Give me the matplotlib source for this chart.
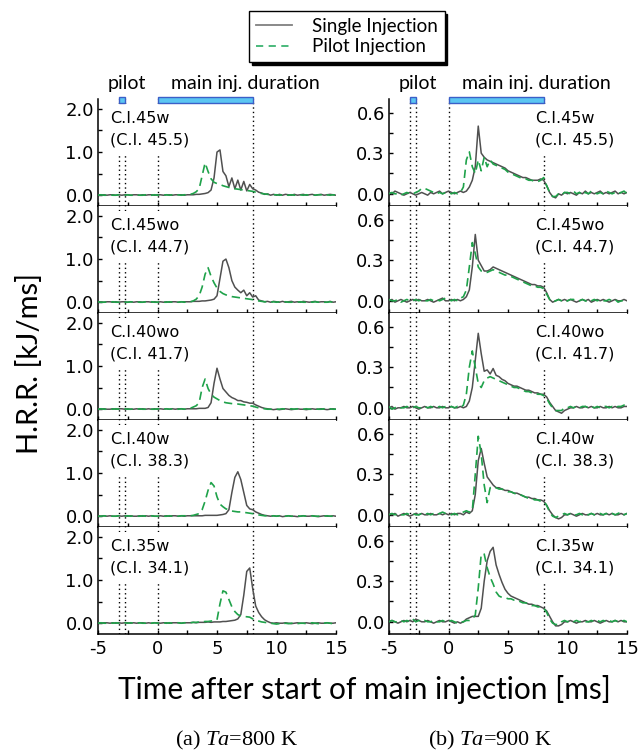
import numpy as np
import matplotlib
matplotlib.use('Agg')
import matplotlib.pyplot as plt
import matplotlib.transforms as mtransforms
from matplotlib.patches import Rectangle
from matplotlib.lines import Line2D
from matplotlib.ticker import MultipleLocator, FixedLocator

plt.rcParams['mathtext.fontset'] = 'custom'
plt.rcParams['mathtext.rm'] = 'Liberation Serif'
plt.rcParams['mathtext.it'] = 'Liberation Serif:italic'
plt.rcParams['axes.unicode_minus'] = False

# time axis, 0.25 ms steps
time = np.arange(-5, 15.01, 0.25)

cases = ['C.I.45w', 'C.I.45wo', 'C.I.40wo', 'C.I.40w', 'C.I.35w']
ci_vals = ['(C.I. 45.5)', '(C.I. 44.7)', '(C.I. 41.7)', '(C.I. 38.3)', '(C.I. 34.1)']

pilot_start, pilot_end = -3.2, -2.7
main_start, main_end = 0.0, 8.0

# ---- Ta = 800 K, H.R.R. [kJ/ms]
s800_45w = [0.01,0.00,0.01,0.00,0.01,0.01,0.00,0.01,0.00,0.01,0.01,0.00,0.01,0.01,0.00,0.01,0.00,0.01,0.01,0.00,
            0.01,0.01,0.00,0.01,0.01,0.00,0.01,0.01,0.01,0.00,0.01,0.01,0.01,0.02,0.02,0.03,0.04,0.06,0.12,0.40,
            1.00,1.05,0.55,0.45,0.20,0.40,0.15,0.35,0.12,0.32,0.10,0.25,0.15,0.12,0.07,0.05,0.02,0.03,0.00,0.02,
            0.00,0.02,0.00,0.02,0.01,0.00,0.02,0.00,0.01,0.02,0.00,0.01,0.02,0.00,0.01,0.02,0.00,0.01,0.02,0.01,0.00]
p800_45w = [0.00,0.01,0.00,0.00,0.01,0.00,0.00,0.01,0.00,0.00,0.01,0.00,0.00,0.01,0.00,0.00,0.01,0.00,0.00,0.01,
            0.00,0.01,0.00,0.01,0.00,0.01,0.00,0.01,0.00,0.01,0.01,0.02,0.04,0.08,0.15,0.45,0.75,0.55,0.38,0.30,
            0.27,0.25,0.22,0.20,0.18,0.17,0.15,0.14,0.13,0.12,0.11,0.10,0.09,0.07,0.05,0.04,0.03,0.02,0.01,0.01,
            0.01,0.00,0.01,0.01,0.00,0.01,0.00,0.01,0.01,0.00,0.01,0.00,0.01,0.00,0.01,0.01,0.00,0.01,0.00,0.01,0.00]
s800_45wo = [0.00,0.01,0.00,0.01,0.01,0.00,0.01,0.00,0.01,0.01,0.00,0.01,0.00,0.01,0.01,0.00,0.01,0.01,0.00,0.01,
             0.00,0.01,0.00,0.01,0.00,0.01,0.01,0.00,0.01,0.01,0.01,0.01,0.02,0.02,0.02,0.03,0.03,0.04,0.05,0.07,
             0.15,0.55,0.95,1.00,0.80,0.50,0.35,0.28,0.22,0.28,0.15,0.22,0.12,0.15,0.05,0.03,0.01,0.02,0.00,0.02,
             0.01,0.00,0.02,0.00,0.01,0.02,0.00,0.01,0.00,0.02,0.01,0.00,0.01,0.02,0.00,0.01,0.01,0.00,0.02,0.00,0.01]
p800_45wo = [0.01,0.00,0.00,0.01,0.00,0.01,0.00,0.00,0.01,0.00,0.00,0.01,0.00,0.01,0.00,0.00,0.01,0.00,0.01,0.00,
             0.00,0.01,0.00,0.00,0.01,0.00,0.01,0.00,0.01,0.00,0.01,0.01,0.03,0.07,0.15,0.35,0.65,0.80,0.60,0.45,
             0.33,0.25,0.20,0.17,0.15,0.13,0.12,0.11,0.10,0.09,0.08,0.07,0.06,0.04,0.03,0.02,0.01,0.01,0.00,0.01,
             0.00,0.01,0.00,0.01,0.00,0.00,0.01,0.00,0.01,0.00,0.00,0.01,0.00,0.01,0.00,0.01,0.00,0.00,0.01,0.00,0.01]
s800_40wo = [0.01,0.00,0.01,0.00,0.00,0.01,0.00,0.01,0.01,0.00,0.01,0.00,0.00,0.01,0.00,0.01,0.00,0.01,0.00,0.01,
             0.00,0.01,0.00,0.01,0.00,0.01,0.00,0.01,0.01,0.00,0.01,0.01,0.01,0.01,0.02,0.02,0.02,0.04,0.15,0.60,
             0.95,0.70,0.48,0.40,0.32,0.27,0.24,0.20,0.20,0.17,0.16,0.14,0.14,0.10,0.07,0.04,0.02,0.01,0.00,-0.01,
             0.00,-0.01,0.00,0.01,0.00,-0.01,0.00,0.01,0.00,0.00,-0.01,0.00,0.01,0.00,0.00,0.01,0.00,-0.01,0.00,0.01,0.00]
p800_40wo = [0.00,0.01,0.00,0.00,0.01,0.00,0.01,0.00,0.00,0.01,0.00,0.00,0.01,0.00,0.01,0.00,0.00,0.01,0.00,0.00,
             0.01,0.00,0.00,0.01,0.00,0.01,0.00,0.00,0.01,0.00,0.01,0.02,0.05,0.08,0.15,0.50,0.70,0.48,0.35,0.28,
             0.24,0.20,0.17,0.15,0.14,0.13,0.12,0.12,0.11,0.10,0.09,0.08,0.07,0.05,0.03,0.02,0.01,0.00,0.00,0.01,
             0.00,0.00,0.01,0.00,0.00,0.01,0.00,0.01,0.00,0.00,0.01,0.00,0.00,0.01,0.00,0.00,0.01,0.00,0.01,0.00,0.00]
s800_40w = [0.01,0.00,0.01,0.00,0.01,0.00,0.00,0.01,0.00,0.01,0.00,0.01,0.00,0.00,0.01,0.00,0.01,0.00,0.01,0.00,
            0.00,0.01,0.00,0.01,0.00,0.01,0.01,0.00,0.01,0.00,0.01,0.01,0.01,0.01,0.01,0.01,0.02,0.02,0.02,0.02,
            0.02,0.03,0.04,0.06,0.15,0.55,0.90,1.03,0.85,0.55,0.25,0.17,0.15,0.10,0.07,0.04,0.02,0.01,0.00,0.01,
            0.00,0.01,-0.01,0.00,0.01,0.00,0.00,-0.01,0.00,0.01,0.00,0.00,0.01,0.00,-0.01,0.00,0.01,0.00,0.00,0.01,0.00]
p800_40w = [0.00,0.00,0.01,0.00,0.01,0.00,0.00,0.01,0.00,0.00,0.01,0.00,0.01,0.00,0.00,0.01,0.00,0.00,0.01,0.00,
            0.00,0.01,0.00,0.00,0.01,0.00,0.01,0.00,0.01,0.01,0.01,0.01,0.02,0.04,0.06,0.15,0.35,0.60,0.78,0.70,
            0.45,0.28,0.22,0.17,0.15,0.12,0.11,0.10,0.10,0.09,0.08,0.07,0.06,0.04,0.03,0.02,0.01,0.01,0.00,0.01,
            0.00,0.01,0.00,0.00,0.01,0.00,0.00,0.01,0.00,0.01,0.00,0.00,0.01,0.00,0.00,0.01,0.00,0.01,0.00,0.00,0.01]
s800_35w = [0.01,0.00,0.01,0.01,0.00,0.01,0.00,0.01,0.00,0.01,0.01,0.00,0.01,0.00,0.01,0.01,0.00,0.01,0.00,0.01,
            0.01,0.00,0.01,0.01,0.00,0.01,0.01,0.01,0.00,0.01,0.01,0.01,0.02,0.01,0.02,0.02,0.02,0.03,0.02,0.03,
            0.03,0.03,0.04,0.04,0.05,0.06,0.07,0.10,0.20,0.65,1.20,1.28,0.80,0.40,0.25,0.15,0.08,0.04,0.01,0.00,
            0.01,0.00,0.00,0.01,0.00,-0.01,0.00,0.01,0.00,0.00,0.01,0.00,-0.01,0.00,0.01,0.00,0.00,0.01,0.00,0.00,0.01]
p800_35w = [0.00,0.01,0.00,0.00,0.01,0.00,0.01,0.00,0.00,0.01,0.00,0.01,0.00,0.00,0.01,0.00,0.00,0.01,0.00,0.01,
            0.00,0.00,0.01,0.00,0.01,0.00,0.01,0.01,0.00,0.01,0.01,0.01,0.02,0.02,0.03,0.03,0.04,0.04,0.05,0.06,
            0.08,0.45,0.75,0.72,0.55,0.38,0.27,0.20,0.17,0.15,0.15,0.14,0.10,0.07,0.05,0.03,0.02,0.01,0.00,-0.01,
            -0.02,-0.01,-0.02,0.00,-0.01,0.00,0.01,-0.01,0.00,0.00,-0.01,0.00,0.01,0.00,-0.01,0.00,0.00,0.01,0.00,-0.01,0.00]

# ---- Ta = 900 K
s900_45w = [0.01,0.00,0.02,0.01,0.00,-0.01,0.00,0.01,0.00,-0.01,0.00,0.01,0.00,-0.01,0.01,0.00,0.01,0.02,0.00,0.01,
            0.02,0.01,0.00,0.01,0.02,0.01,0.02,0.05,0.10,0.20,0.50,0.30,0.27,0.25,0.24,0.23,0.22,0.21,0.20,0.19,
            0.17,0.16,0.15,0.14,0.13,0.12,0.12,0.11,0.10,0.10,0.10,0.11,0.10,0.06,0.01,-0.02,-0.03,0.00,-0.01,0.01,
            0.00,0.01,0.00,-0.01,0.01,0.00,0.02,0.00,0.01,0.00,0.01,0.02,0.00,0.01,0.00,0.01,0.02,0.00,0.01,0.00,0.01]
p900_45w = [0.00,0.01,0.00,0.00,-0.01,0.00,0.01,0.00,0.00,0.01,0.02,0.04,0.04,0.03,0.02,0.01,0.00,0.01,0.00,0.01,
            0.01,0.00,0.01,0.00,0.01,0.05,0.25,0.31,0.20,0.15,0.25,0.17,0.27,0.20,0.25,0.22,0.21,0.20,0.19,0.18,
            0.16,0.15,0.14,0.13,0.12,0.11,0.11,0.10,0.10,0.09,0.09,0.10,0.12,0.06,0.01,-0.02,-0.02,0.00,-0.01,0.01,
            0.01,0.00,0.02,0.00,0.01,-0.01,0.01,0.00,0.02,0.01,0.00,0.01,0.00,0.02,0.01,0.00,0.01,0.00,0.01,0.02,0.00]
s900_45wo = [0.00,0.01,-0.01,0.00,0.01,0.00,-0.01,0.00,0.01,0.00,0.01,0.00,0.00,0.01,0.00,-0.01,0.00,0.01,0.02,0.00,
             0.00,0.01,0.00,0.01,0.00,0.01,0.03,0.08,0.25,0.49,0.30,0.26,0.22,0.22,0.23,0.25,0.24,0.23,0.22,0.21,
             0.20,0.19,0.18,0.17,0.16,0.15,0.14,0.13,0.12,0.12,0.11,0.11,0.10,0.06,0.01,-0.01,0.00,0.01,0.00,0.01,
             0.00,0.01,0.00,-0.01,0.00,0.01,0.00,0.01,-0.01,0.00,0.01,0.00,0.01,0.00,-0.01,0.00,0.01,0.00,0.00,0.01,0.00]
p900_45wo = [0.01,0.00,0.00,0.01,-0.01,0.00,0.01,0.00,0.00,0.01,0.00,0.01,0.00,0.00,0.01,0.00,0.01,0.00,0.01,0.02,
             0.01,0.00,0.01,0.00,0.02,0.03,0.08,0.25,0.43,0.35,0.25,0.22,0.21,0.21,0.22,0.23,0.22,0.21,0.20,0.19,
             0.19,0.18,0.17,0.16,0.15,0.14,0.13,0.12,0.11,0.11,0.10,0.10,0.09,0.05,0.01,-0.01,0.00,0.01,0.00,-0.01,
             0.00,0.01,0.01,0.00,0.00,0.01,0.00,-0.01,0.00,0.01,0.00,0.01,0.00,0.00,0.01,0.00,0.01,-0.01,0.00,0.00,0.01]
s900_40wo = [0.00,0.01,-0.01,0.00,0.00,0.01,0.00,0.00,0.01,0.00,-0.01,0.00,0.01,0.00,0.00,0.01,0.00,0.00,0.01,0.00,
             0.00,0.01,0.00,0.00,0.01,0.00,0.01,0.05,0.15,0.35,0.55,0.40,0.27,0.28,0.25,0.29,0.24,0.23,0.21,0.20,
             0.18,0.17,0.16,0.16,0.15,0.14,0.13,0.13,0.12,0.11,0.11,0.10,0.10,0.08,0.04,0.01,-0.02,-0.03,-0.04,-0.02,
             -0.01,0.00,0.00,0.01,0.00,0.00,0.01,0.00,0.01,0.00,0.00,0.01,0.00,0.00,0.01,0.00,0.01,0.00,0.00,0.01,0.01]
p900_40wo = [0.01,-0.01,0.00,0.01,0.00,0.00,0.01,0.00,0.00,0.01,0.00,0.00,0.01,0.00,0.01,0.00,0.00,0.01,0.00,0.01,
             0.00,0.01,0.00,0.01,0.00,0.02,0.10,0.30,0.42,0.30,0.18,0.15,0.20,0.22,0.23,0.22,0.21,0.20,0.19,0.18,
             0.17,0.16,0.15,0.15,0.14,0.13,0.12,0.12,0.11,0.11,0.10,0.10,0.09,0.07,0.03,0.00,-0.02,-0.02,-0.02,0.00,
             0.00,0.01,0.00,0.01,0.00,0.01,0.01,0.00,0.01,0.00,0.01,0.00,0.01,0.01,0.00,0.01,0.00,0.01,0.01,0.02,0.01]
s900_40w = [0.01,0.00,0.01,-0.01,0.00,0.01,0.00,-0.01,0.00,0.01,0.00,0.01,0.00,0.00,0.01,0.00,0.00,0.01,0.00,0.01,
            0.00,0.01,0.00,0.01,0.01,0.00,0.02,0.01,0.03,0.15,0.40,0.49,0.38,0.28,0.25,0.22,0.20,0.20,0.19,0.18,
            0.18,0.17,0.16,0.16,0.15,0.14,0.13,0.13,0.12,0.12,0.11,0.11,0.10,0.07,0.03,0.00,-0.02,-0.03,-0.02,0.00,
            0.00,0.01,0.00,-0.01,0.00,0.01,0.00,0.00,0.01,0.00,0.01,0.00,0.00,0.01,0.00,0.01,0.00,0.00,0.01,0.00,0.01]
p900_40w = [0.00,0.01,0.00,0.01,0.00,0.00,0.01,0.00,0.01,0.00,0.00,0.01,0.00,0.01,0.00,0.01,0.00,0.01,0.02,0.01,
            0.01,0.00,0.01,0.00,0.01,0.02,0.03,0.02,0.03,0.30,0.58,0.45,0.22,0.09,0.20,0.21,0.20,0.19,0.19,0.18,
            0.17,0.17,0.16,0.15,0.15,0.14,0.13,0.12,0.12,0.11,0.11,0.10,0.10,0.07,0.02,-0.01,-0.02,-0.01,0.00,0.01,
            0.00,0.01,0.00,0.00,0.01,0.00,0.01,0.00,0.01,0.00,0.00,0.01,0.00,0.01,0.00,0.01,0.00,0.01,0.02,0.00,0.01]
s900_35w = [0.00,0.01,0.00,-0.01,0.00,0.01,0.00,0.01,0.00,0.02,0.01,0.00,0.00,0.01,0.00,-0.01,0.00,0.01,0.00,0.00,
            0.01,0.00,-0.01,0.00,-0.01,0.00,0.02,0.03,0.04,0.04,0.04,0.10,0.30,0.45,0.52,0.55,0.42,0.35,0.29,0.24,
            0.21,0.19,0.18,0.17,0.16,0.15,0.14,0.13,0.13,0.12,0.12,0.11,0.10,0.08,0.04,0.00,-0.03,-0.03,-0.02,0.00,
            0.00,0.01,0.00,-0.01,0.00,0.00,0.01,0.00,0.00,0.01,0.00,-0.01,0.00,0.01,0.00,0.00,0.01,0.00,0.01,0.00,0.00]
p900_35w = [0.00,0.01,0.00,0.00,0.01,0.00,0.01,0.00,0.02,0.00,0.01,0.00,0.01,0.00,0.00,0.01,0.00,0.00,0.01,0.00,
            0.00,0.01,0.00,-0.01,0.00,0.00,0.01,0.01,0.02,0.05,0.25,0.50,0.50,0.40,0.33,0.28,0.22,0.19,0.18,0.18,
            0.17,0.17,0.16,0.16,0.15,0.14,0.14,0.13,0.12,0.12,0.11,0.11,0.10,0.07,0.02,-0.01,-0.02,-0.02,0.00,0.01,
            0.00,0.01,0.00,0.01,0.00,0.01,0.00,0.00,0.01,0.00,0.01,0.00,0.01,0.00,0.01,0.00,0.01,0.00,0.00,0.01,0.00]

single = [[s800_45w, s800_45wo, s800_40wo, s800_40w, s800_35w],
          [s900_45w, s900_45wo, s900_40wo, s900_40w, s900_35w]]
pilot = [[p800_45w, p800_45wo, p800_40wo, p800_40w, p800_35w],
         [p900_45w, p900_45wo, p900_40wo, p900_40w, p900_35w]]

gray = '#505050'
green = '#1fa24a'

W, H = 640, 755
fig = plt.figure(figsize=(6.4, 7.55), dpi=100)

col_x = [98, 389]
ylims = [(-0.25, 2.23), (-0.09, 0.70)]
ymajor = [[0.0, 1.0, 2.0], [0.0, 0.3, 0.6]]
yminor = [[0.5, 1.5], [0.15, 0.45]]
ylabels = [['0.0', '1.0', '2.0'], ['0.0', '0.3', '0.6']]

for c in range(2):
    for k in range(5):
        ax = fig.add_axes([col_x[c] / W, 1 - (206 + 107 * k) / H, 238 / W, 107 / H])
        for xv in [pilot_start, pilot_end, main_start, main_end]:
            ax.axvline(xv, color='k', ls=(0, (1, 2.2)), lw=1.0, zorder=1)
        ax.plot(time, single[c][k], color=gray, lw=1.1, zorder=3)
        ax.plot(time, pilot[c][k], color=green, lw=1.2, ls=(0, (5, 3)), zorder=4)
        ax.set_xlim(-5, 15)
        ax.set_ylim(*ylims[c])
        ax.spines['top'].set_visible(False)
        ax.spines['right'].set_visible(False)
        for sp in ['left', 'bottom']:
            ax.spines[sp].set_linewidth(1.1)
        ax.xaxis.set_major_locator(MultipleLocator(5))
        ax.xaxis.set_minor_locator(MultipleLocator(2.5))
        ax.yaxis.set_major_locator(FixedLocator(ymajor[c]))
        ax.yaxis.set_minor_locator(FixedLocator(yminor[c]))
        ax.set_yticklabels(ylabels[c])
        ax.tick_params(which='both', direction='in', length=3, width=1.0,
                       labelsize=13, top=False, right=False)
        ax.tick_params(axis='y', pad=3)
        ax.tick_params(axis='x', pad=4)
        if k < 4:
            ax.tick_params(axis='x', labelbottom=False)
        tx = 0.05 if c == 0 else 0.615
        ax.text(tx, 0.715, cases[k] + '\n' + ci_vals[k], transform=ax.transAxes,
                ha='left', va='center', fontsize=11.5, linespacing=1.55, zorder=6,
                bbox=dict(boxstyle='square,pad=0.45', fc='white', ec='none'))
        if k == 0:
            trans = mtransforms.blended_transform_factory(ax.transData, ax.transAxes)
            for x0, x1 in [(pilot_start, pilot_end), (main_start, main_end)]:
                ax.add_patch(Rectangle((x0, 1 - 3.5 / 107), x1 - x0, 6 / 107, transform=trans,
                                       clip_on=False, fc='#5bc6f2', ec='#3b5fc8', lw=1.0, zorder=7))
            ax.text(-2.55, 1 + 16 / 107, 'pilot', transform=trans, ha='center', va='center',
                    fontsize=14, family='Lato')
            ax.text(7.4, 1 + 16 / 107, 'main inj. duration', transform=trans, ha='center',
                    va='center', fontsize=14, family='Lato')

handles = [Line2D([], [], color='#808080', lw=1.3),
           Line2D([], [], color='#3cb371', lw=1.3, ls=(0, (4, 3)))]
fig.legend(handles, ['Single Injection', 'Pilot Injection'], loc='upper center',
           bbox_to_anchor=(347 / W, 1 - 11 / H), frameon=True, fancybox=False,
           edgecolor='k', framealpha=1, shadow={'color': 'black', 'alpha': 1},
           prop={'family': 'Lato', 'size': 13.5}, handlelength=1.9, handletextpad=1.1,
           labelspacing=0.2, borderpad=0.35, borderaxespad=0)

fig.text(30 / W, 1 - 364 / H, 'H.R.R. [kJ/ms]', rotation=90, ha='center', va='center',
         fontsize=21, family='Lato')
fig.text(364 / W, 1 - 689 / H, 'Time after start of main injection [ms]', ha='center',
         va='center', fontsize=21.5, family='Lato')
fig.text(237 / W, 1 - 740 / H, r'(a) $\mathit{Ta}$=800 K', ha='center', va='center',
         fontsize=16, family='Liberation Serif')
fig.text(490 / W, 1 - 740 / H, r'(b) $\mathit{Ta}$=900 K', ha='center', va='center',
         fontsize=16, family='Liberation Serif')

fig.savefig('out.png', dpi=100)
